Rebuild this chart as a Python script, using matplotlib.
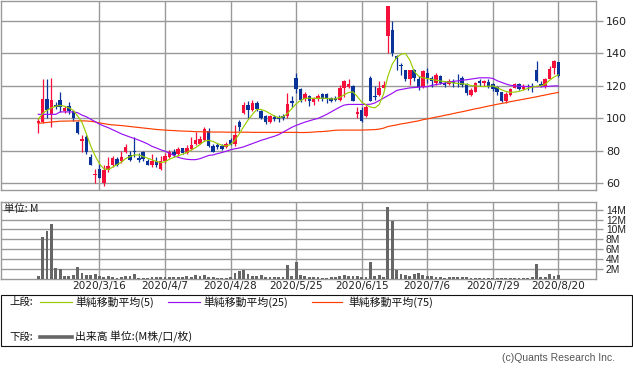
import matplotlib
matplotlib.use('Agg')
import matplotlib.pyplot as plt
from matplotlib.patches import Rectangle
from matplotlib.lines import Line2D
import numpy as np

# ---------------- data ----------------
opens = [97, 98, 112, 103, 108.5, 111.5, 104.5, 107.5, 104.5, 98,
         86, 88.5, 76.5, 65, 69, 60, 68.5, 71, 75, 73.5,
         79.5, 77.5, 80, 75.5, 79, 74, 71, 74, 69, 73.5,
         76.5, 79.5, 78, 81.5, 78.5, 81, 84.5, 84.5, 87, 92.5,
         83, 83.5, 83, 82.5, 86.5, 84.5, 97.5, 103.5, 108.5, 105,
         109.5, 104.5, 101.5, 97.5, 101, 101, 101.5, 101.5, 111, 125,
         118, 112, 113.5, 110, 112, 115, 115, 112.5, 112.5, 111.5,
         119, 119.5, 120, 103, 105, 101.5, 125, 114, 114.5, 119,
         150.5, 154.5, 138.5, 133, 129.5, 124.5, 130, 124.5, 119.5, 128,
         125, 122, 126, 122, 121, 122.5, 122, 125, 121, 114.5,
         116.5, 123, 121.5, 122.5, 121, 119.5, 116, 110.5, 114.5, 119,
         121, 118, 120, 120, 129.5, 121, 119.5, 124.5, 131, 134.5]
highs = [100, 124, 124.5, 125, 110, 116.5, 107.5, 110, 105, 98.5,
         90, 89.5, 78, 69, 72, 71, 76, 77, 76, 80,
         84, 80, 88.5, 78.5, 80, 75, 78, 76, 77, 78.5,
         80.5, 81, 82.5, 82, 83.5, 88.5, 91.5, 89, 95, 94,
         84, 85, 84, 85.5, 88, 96, 99, 110, 111, 111.5,
         111, 105, 102, 102, 102, 102, 102.5, 115.5, 114, 128,
         118.5, 116.5, 114.5, 113, 115, 115.5, 115.5, 113, 113.5, 120.5,
         123.5, 124.5, 120.5, 107, 107, 108, 126, 120, 123, 123,
         169.5, 160, 139, 134, 130, 130, 130.5, 126, 130, 131,
         126, 128, 126.5, 123, 124, 124, 127.5, 126, 122, 118.5,
         122.5, 124, 123.5, 124, 122, 120, 116.5, 116, 119, 121.5,
         121.5, 121, 121, 121.5, 135.5, 123, 125, 132.5, 136, 135]
lows = [91, 97, 100, 95, 106, 104, 103.5, 103, 98.5, 90.5,
        79.5, 78, 71, 60, 63, 58.5, 67, 70, 70.5, 72.5,
        78.5, 74, 76, 73, 74, 71, 70, 70, 68, 72.5,
        75.5, 76.5, 77, 78, 78, 80.5, 83.5, 84, 86, 82.5,
        79, 81, 80.5, 82, 83.5, 83, 92.5, 103, 100.5, 104.5,
        104.5, 99.5, 96.5, 97, 98.5, 97.5, 99, 100, 107, 115.5,
        110, 110.5, 107.5, 108.5, 110.5, 110.5, 109.5, 110, 111, 110.5,
        113, 119, 110.5, 100, 98, 101, 111, 111.5, 113.5, 118.5,
        140, 138.5, 130, 127, 123, 120.5, 123, 117.5, 119, 121.5,
        119.5, 120.5, 121, 119.5, 120.5, 119.5, 119.5, 119.5, 114.5, 113.5,
        116, 120, 120, 119, 117, 114.5, 110, 109.5, 114, 118.5,
        117.5, 117.5, 117.5, 116.5, 122.5, 119.5, 119, 124, 127.5, 125.5]
closes = [98.5, 112, 105, 111.5, 107, 107, 106.5, 104.5, 100.5, 91,
          87.5, 79, 71.5, 66, 63.5, 68.5, 70.5, 75.5, 71.5, 76.5,
          82.5, 74.5, 79, 74.5, 75, 71.5, 73.5, 71, 73.5, 77,
          79, 77.5, 81, 78.5, 82, 83.5, 86.5, 87.5, 93.5, 83,
          79.5, 82.5, 81, 84.5, 84, 89.5, 94.5, 108.5, 105, 109.5,
          105.5, 100.5, 97.5, 101.5, 99.5, 99.5, 100, 109, 109.5, 118,
          111.5, 115, 110.5, 112, 113.5, 112, 112, 110.5, 111.5, 119,
          123, 121, 111, 104, 98.5, 107, 111, 113, 119, 120.5,
          169, 140, 136.5, 132, 124.5, 129.5, 125, 119.5, 129, 125,
          123, 127, 122, 120.5, 123, 122, 121.5, 120.5, 115.5, 117.5,
          121.5, 121.5, 123, 119.5, 118, 116, 110.5, 115, 118, 121,
          118, 119.5, 119.5, 119.5, 123, 120, 124, 130.5, 135.5, 126]
ma5 = [99.5, 103, 105, 106.5, 107.5, 108, 107.5, 106.5, 105, 101.5,
       97.5, 90.5, 83, 77, 72, 69, 68.5, 70, 71.5, 73,
       75.3, 76.5, 77.5, 77.5, 76.5, 75.5, 74.5, 73.5, 72.8, 73.3,
       74.8, 76, 77, 78, 79, 80.5, 82, 84, 86, 86.5,
       85.8, 84.5, 83.5, 83, 84, 86.5, 90.5, 95, 99, 102.5,
       105.5, 105.5, 104.5, 103, 101.5, 100.5, 101, 103, 106, 109,
       111, 112.3, 112.5, 112.3, 112.3, 112.5, 112.3, 112, 112, 113,
       114.5, 116, 116.3, 113.5, 110, 108.3, 107, 106.5, 108.5, 115,
       126, 133.5, 137.5, 139.5, 140, 136, 129, 126, 125, 124.5,
       124, 123.5, 123, 122.7, 122.3, 121.8, 121.5, 121.3, 121, 120.3,
       120, 119.8, 119.6, 119.8, 120, 119, 117.6, 116.6, 116, 116.2,
       116.6, 117.5, 118.5, 119.2, 119.8, 120, 121, 123.5, 125.5, 126.8]
ma25 = [102.5, 102.5, 102.5, 102.5, 102.5, 104, 104, 104, 104, 103.5,
        102, 101, 99.5, 98, 96.5, 95.3, 94.3, 93, 91.8, 90.5,
        89.5, 88.5, 87.6, 86.6, 85.5, 84.3, 82.8, 81.8, 80.7, 79.8,
        78.6, 77.2, 76, 75.3, 74.8, 74.6, 74.6, 75.2, 76.2, 77.2,
        77.5, 78.3, 79, 79.8, 80.7, 81.3, 81.8, 82.5, 83.5, 84.5,
        85.5, 86.5, 87.3, 88.2, 89, 90, 91.5, 93, 94.5, 95.7,
        96.7, 97.7, 98.5, 99.3, 100, 101.2, 102.5, 104, 105.5, 107,
        108.2, 108.6, 108.6, 108.6, 108.6, 108.6, 108.7, 109.5, 111, 112.5,
        114, 115.5, 117.2, 117.8, 118.3, 118.8, 119, 119.2, 119.4, 119.5,
        120.3, 120.8, 121.3, 121.8, 122.3, 122.8, 123.1, 123.5, 123.8, 124.2,
        124.6, 125, 125, 125, 124.6, 123.2, 122.2, 121.2, 120.4, 120,
        119.8, 119.7, 119.6, 119.5, 119.4, 119.5, 119.6, 119.8, 120, 120]
ma75 = [97, 97.2, 97.5, 97.8, 98, 98.3, 98.3, 98.4, 98.4, 98.5,
        98.5, 98.4, 98.2, 97.8, 97.2, 96.8, 96.3, 96, 95.8, 95.6,
        95.3, 95, 94.7, 94.4, 94.1, 93.8, 93.5, 93.2, 93, 92.8,
        92.6, 92.5, 92.3, 92.2, 92.1, 92, 91.8, 91.8, 91.7, 91.7,
        91.6, 91.6, 91.6, 91.5, 91.5, 91.5, 91.5, 91.5, 91.5, 91.4,
        91.4, 91.4, 91.4, 91.4, 91.4, 91.4, 91.4, 91.4, 91.4, 91.4,
        91.3, 91.3, 91.4, 91.6, 91.8, 91.9, 92.1, 92.4, 92.7, 92.8,
        92.8, 92.8, 92.8, 92.8, 92.8, 92.9, 93, 93.1, 93.4, 94,
        95, 95.5, 96, 96.6, 97, 97.5, 98, 98.5, 99.2, 99.7,
        100.2, 100.8, 101.3, 101.9, 102.4, 103, 103.6, 104.1, 104.7, 105.3,
        105.9, 106.4, 107, 107.6, 108.1, 108.7, 109.2, 109.7, 110.3, 110.8,
        111.3, 111.8, 112.3, 112.8, 113.3, 113.9, 114.4, 115, 115.5, 116]
volume = [0.5, 8.4, 9.6, 11.2, 2.1, 1.9, 0.6, 0.6, 0.8, 2.4,
          1.1, 0.7, 0.8, 0.9, 0.5, 0.4, 0.5, 0.3, 0.2, 0.35,
          0.5, 0.55, 0.9, 0.2, 0.15, 0.15, 0.35, 0.25, 0.3, 0.4,
          0.3, 0.3, 0.3, 0.3, 0.6, 0.3, 0.8, 0.6, 0.7, 0.3,
          0.25, 0.15, 0.1, 0.15, 0.3, 1.2, 1.5, 1.8, 1.0, 0.6,
          0.6, 0.7, 0.3, 0.3, 0.3, 0.4, 0.3, 2.7, 0.6, 3.3,
          0.8, 0.5, 0.4, 0.3, 0.3, 0.2, 0.2, 0.3, 0.3, 0.6,
          0.8, 0.6, 0.6, 0.6, 0.4, 0.3, 3.3, 0.6, 0.8, 0.3,
          14.6, 11.8, 1.7, 1.0, 0.7, 0.6, 0.9, 1.2, 0.8, 0.6,
          0.6, 0.4, 0.3, 0.2, 0.25, 0.4, 0.4, 0.3, 0.3, 0.2,
          0.15, 0.1, 0.1, 0.1, 0.1, 0.2, 0.2, 0.1, 0.1, 0.1,
          0.1, 0.1, 0.1, 0.3, 3.0, 0.4, 0.35, 1.0, 0.5, 0.8]
date_labels = ["2020/3/16", "2020/4/7", "2020/4/28", "2020/5/25",
               "2020/6/15", "2020/7/6", "2020/7/29", "2020/8/20"]
date_label_index = [14, 29, 44, 59, 74, 89, 104, 119]
price_ticks = [60, 80, 100, 120, 140, 160]
volume_ticks = [2, 4, 6, 8, 10, 12, 14]
legend_upper = ["単純移動平均(5)", "単純移動平均(25)", "単純移動平均(75)"]
legend_lower = "出来高 単位:(M株/口/枚)"

# ---------------- styling ----------------
UP = '#f5103c'
DOWN = '#0a3399'
C_MA5 = '#99cc00'
C_MA25 = '#9a10f5'
C_MA75 = '#ff3c00'
GRID = '#999999'
JP = ['Noto Sans CJK JP', 'DejaVu Sans']

W, H = 633, 370
fig = plt.figure(figsize=(W / 100, H / 100), dpi=100)


def rect(x0, y0, x1, y1):
    return [x0 / W, 1 - y1 / H, (x1 - x0) / W, (y1 - y0) / H]


def fx(x):
    return x / W


def fy(y):
    return 1 - y / H


ax = fig.add_axes(rect(0.5, 0.5, 595.5, 190.5))
axv = fig.add_axes(rect(0.5, 202, 595.5, 278.5))

n = len(closes)
idx = np.arange(n)
o = np.array(opens); c = np.array(closes)
h = np.array(highs); l = np.array(lows)
up = c >= o
colors = np.where(up, UP, DOWN)

# candles
ax.vlines(idx, l, h, colors=colors, lw=0.9, zorder=3)
body_bottom = np.minimum(o, c)
body_h = np.maximum(np.abs(c - o), 0.6)
ax.bar(idx, body_h, bottom=body_bottom, width=0.8, color=colors,
       linewidth=0, zorder=4)

# moving averages
ax.plot(idx, ma75, color=C_MA75, lw=0.85, zorder=5)
ax.plot(idx, ma25, color=C_MA25, lw=0.85, zorder=5)
ax.plot(idx, ma5, color=C_MA5, lw=0.85, zorder=6)

xmin, xmax = -8.65, 127.5
for a in (ax, axv):
    a.set_xlim(xmin, xmax)
    a.set_xticks(date_label_index)
    a.grid(True, color=GRID, lw=1.0, zorder=0)
    a.set_axisbelow(True)
    for s in a.spines.values():
        s.set_color(GRID)
        s.set_linewidth(1.0)
    a.yaxis.tick_right()
    a.tick_params(axis='y', colors=GRID, length=5, width=1.0, pad=2.5,
                  labelcolor='#222222')

ax.set_ylim(55.6, 172.6)
ax.set_yticks(price_ticks)
ax.set_yticklabels([str(v) for v in price_ticks], fontsize=8,
                   family='DejaVu Sans')
ax.tick_params(axis='x', length=0, labelbottom=False)

# volume
axv.bar(idx, volume, width=0.65, color='#666666', linewidth=0, zorder=3)
axv.set_ylim(0, 15.6)
axv.set_yticks(volume_ticks)
axv.set_yticklabels([f'{v}M' for v in volume_ticks], fontsize=7.4,
                    family='Liberation Sans')
axv.set_xticklabels(date_labels, fontsize=7.6, family='DejaVu Sans',
                    color='#222222')
axv.tick_params(axis='x', length=0, pad=2)
axv.text(fx(4), fy(209), '単位: M', transform=fig.transFigure, fontsize=7.5,
         family=JP, va='center', ha='left', color='#222222')

# legend box
fig.add_artist(Rectangle((fx(1), fy(346)), fx(631), 51 / H,
                         transform=fig.transFigure, fill=False,
                         ec='#111111', lw=0.8))
y1, y2 = 302, 337
fig.text(fx(9), fy(y1), '上段:', fontsize=7.5, family=JP, va='center',
         ha='left', color='#111111')
fig.text(fx(9), fy(y2), '下段:', fontsize=7.5, family=JP, va='center',
         ha='left', color='#111111')
segs = [(40, 72, 75, C_MA5), (168, 200, 203, C_MA25), (312, 342, 348, C_MA75)]
for (xa, xb, xt, col), lab in zip(segs, legend_upper):
    fig.add_artist(Line2D([fx(xa), fx(xb)], [fy(y1), fy(y1)],
                          transform=fig.transFigure, color=col, lw=0.85))
    fig.text(fx(xt), fy(y1), lab, fontsize=7.8, family=JP, va='center',
             ha='left', color='#111111')
fig.add_artist(Line2D([fx(40), fx(72)], [fy(y2), fy(y2)],
                      transform=fig.transFigure, color='#666666', lw=2.6))
fig.text(fx(75), fy(y2), legend_lower, fontsize=7.8, family=JP,
         va='center', ha='left', color='#111111')

fig.text(fx(615), fy(358), '(c)Quants Research Inc.', fontsize=7.5,
         family='Liberation Sans', va='center', ha='right', color='#555555')

fig.savefig('out.png', dpi=100)
